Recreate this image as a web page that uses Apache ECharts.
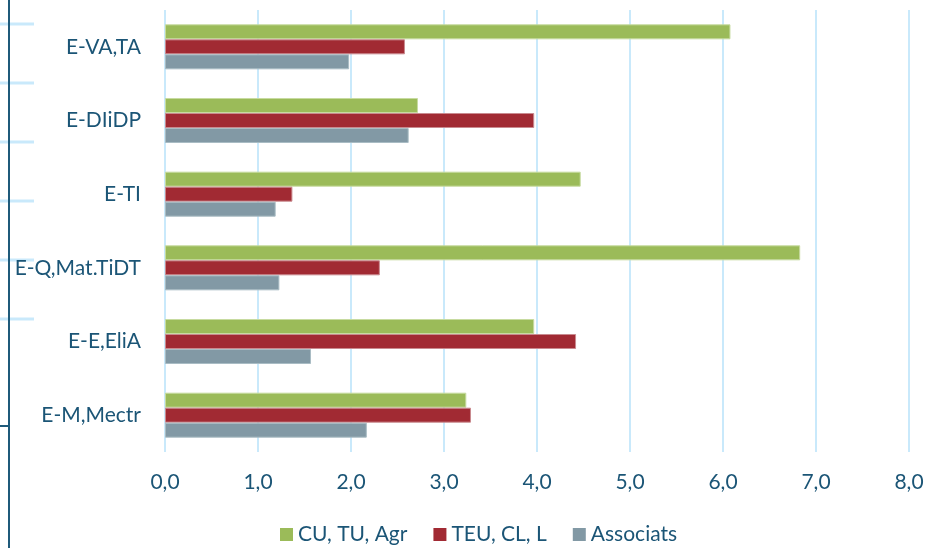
<!DOCTYPE html>
<html>
<head>
<meta charset="utf-8">
<script src="https://cdn.jsdelivr.net/npm/echarts@6/dist/echarts.min.js"></script>
<style>
  html, body { margin: 0; padding: 0; background: #fff; }
  #chart { width: 938px; height: 548px; }
</style>
</head>
<body>
<div id="chart"></div>
<script>
// categories from bottom to top
const categories = ['E-M,Mectr', 'E-E,EliA', 'E-Q,Mat.TiDT', 'E-TI', 'E-DIiDP', 'E-VA,TA'];
const seriesNames = ['CU, TU, Agr', 'TEU, CL, L', 'Associats'];
const cuTuAgr = [3.24, 3.97, 6.83, 4.47, 2.72, 6.08];
const teuClL = [3.29, 4.42, 2.31, 1.37, 3.97, 2.58];
const associats = [2.17, 1.57, 1.23, 1.19, 2.62, 1.98];
const xTicks = { min: 0, max: 8, interval: 1 };

const textColor = '#1b5576';
const gridColor = '#c9e9fb';
const font = 'Lato, "Open Sans", sans-serif';

const chart = echarts.init(document.getElementById('chart'));

// leftover frame lines at the left edge (decoration only)
const deco = [
  { type: 'line', shape: { x1: 9, y1: 0, x2: 9, y2: 548 }, style: { stroke: '#1f5a7a', lineWidth: 2 } },
  { type: 'line', shape: { x1: 0, y1: 426, x2: 10, y2: 426 }, style: { stroke: '#1f5a7a', lineWidth: 2 } }
];
[24, 83, 142, 201, 260, 319].forEach(y => {
  deco.push({ type: 'line', z: -1, shape: { x1: 0, y1: y, x2: 34, y2: y }, style: { stroke: gridColor, lineWidth: 3 } });
});

function bar(name, data, color, border) {
  return {
    name,
    type: 'bar',
    data,
    barWidth: 15,
    barGap: '0%',
    itemStyle: { color, borderColor: border, borderWidth: 1 }
  };
}

const option = {
  animation: false,
  backgroundColor: '#fff',
  textStyle: { fontFamily: font },
  graphic: deco,
  grid: { left: 165, right: 29, top: 10, bottom: 96 },
  legend: {
    data: seriesNames,
    top: 519,
    left: 275,
    itemWidth: 13,
    itemHeight: 13,
    itemGap: 26,
    icon: 'rect',
    itemStyle: { borderWidth: 0 },
    textStyle: { color: textColor, fontSize: 21, fontFamily: font }
  },
  xAxis: {
    type: 'value',
    min: xTicks.min,
    max: xTicks.max,
    interval: xTicks.interval,
    axisLine: { show: false },
    axisTick: { show: false },
    splitLine: { show: true, lineStyle: { color: gridColor, width: 2 } },
    axisLabel: {
      color: textColor,
      fontSize: 21,
      margin: 20,
      formatter: v => v.toFixed(1).replace('.', ',')
    }
  },
  yAxis: {
    type: 'category',
    data: categories,
    axisLine: { show: false },
    axisTick: { show: false },
    axisLabel: { color: textColor, fontSize: 21, margin: 24 }
  },
  series: [
    bar(seriesNames[0], cuTuAgr, '#9bbb59', '#c7dba0'),
    bar(seriesNames[1], teuClL, '#a12a33', '#c98a8f'),
    bar(seriesNames[2], associats, '#8299a5', '#a9bcc4')
  ]
};

chart.setOption(option);
window.addEventListener('resize', () => chart.resize());
</script>
</body>
</html>
